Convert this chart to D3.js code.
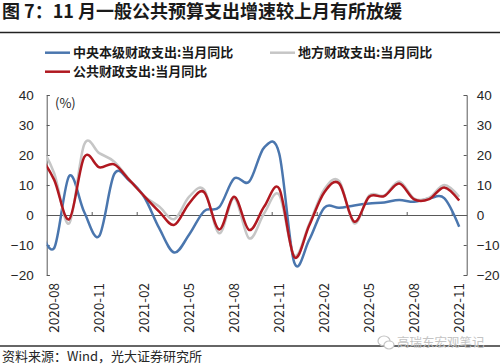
<!DOCTYPE html>
<html>
<head>
<meta charset="utf-8">
<script src="https://cdn.jsdelivr.net/npm/d3@7"></script>
<style>
  body { margin: 0; background: #fff; }
  svg { display: block; font-family: "Noto Sans CJK SC", "Noto Sans", sans-serif; }
  .axis text { font-size: 13.5px; fill: #262626; }
  .axis path, .axis line { stroke: #595959; }
</style>
</head>
<body>
<svg id="chart" width="500" height="364"></svg>
<script>
// months, 2020-07 is only partly visible (clipped at the left axis)
var months = ["2020-07", "2020-08", "2020-09", "2020-10", "2020-11", "2020-12",
  "2021-01", "2021-02", "2021-03", "2021-04", "2021-05", "2021-06",
  "2021-07", "2021-08", "2021-09", "2021-10", "2021-11", "2021-12",
  "2022-01", "2022-02", "2022-03", "2022-04", "2022-05", "2022-06",
  "2022-07", "2022-08", "2022-09", "2022-10", "2022-11"];

var central = [-4, -11, 13, 1, -7, 13.6, 11.5, 6, -4.4, -12.5, -6.5, 1.3,
  2.6, 12.2, 11.1, 22.5, 20.5, -15.8, -8.3, 2.4, 2.4, 3.2, 3.8, 4.2,
  5.0, 4.4, 5.5, 5.6, -3.9];

var local = [24, 13.9, -2.8, 23.5, 20.6, 17.8, 11.9, 6.3, 2.8, -1.4, 6.1, 8.4,
  -6.1, 5.6, -7.8, 0.6, 6.7, -13.5, -3, 8.5, 11.3, -2.8, 6.5, 6.5,
  11.2, 5.5, 5.8, 10, 6.1];

var total = [20, 11.7, -1.4, 19.3, 15.9, 16.9, 11.7, 6.3, 1.1, -3.3, 3.9, 7.6,
  -4.8, 6.1, -5, 2.8, 8.8, -14, -3.5, 7.5, 10.5, -2.2, 6.1, 6.3,
  10.5, 5.2, 5.3, 9.2, 4.8];

var yTicks = [-20, -10, 0, 10, 20, 30, 40];
var labelMonths = ["2020-08", "2020-11", "2021-02", "2021-05", "2021-08",
  "2021-11", "2022-02", "2022-05", "2022-08", "2022-11"];

var series = [
  { name: "中央本级财政支出:当月同比", values: central, color: "#4a76ae" },
  { name: "地方财政支出:当月同比", values: local, color: "#c6c6c6" },
  { name: "公共财政支出:当月同比", values: total, color: "#b01820" }
];

var svg = d3.select("#chart");
var plotLeft = 46.7, plotRight = 466.7, plotTop = 95, plotBottom = 275;

var x = d3.scaleLinear().domain([0.5, months.length - 0.5]).range([plotLeft, plotRight]);
var y = d3.scaleLinear().domain([-20, 40]).range([plotBottom, plotTop]);

// title
svg.append("text")
  .attr("x", 2).attr("y", 18)
  .attr("font-size", 18).attr("font-weight", "bold").attr("fill", "#1a1a1a")
  .text("图 7：11 月一般公共预算支出增速较上月有所放缓");

svg.append("line")
  .attr("x1", 0).attr("x2", 500).attr("y1", 32.5).attr("y2", 32.5)
  .attr("stroke", "#222").attr("stroke-width", 1.3);

// legend
var legendPos = [[45, 52.7], [270, 52.7], [45, 71.7]];
var legend = svg.selectAll(".legend")
  .data(series)
  .enter()
  .append("g")
    .attr("class", "legend")
    .attr("transform", function(d, i) {
      return "translate(" + legendPos[i][0] + "," + legendPos[i][1] + ")";
    });

legend.append("line")
  .attr("x1", 0).attr("x2", 25)
  .attr("stroke", function(d) { return d.color; })
  .attr("stroke-width", 2.5);

legend.append("text")
  .attr("x", 28).attr("dy", "0.36em")
  .attr("font-size", 13).attr("font-weight", "bold").attr("fill", "#1a1a1a")
  .text(function(d) { return d.name; });

// y axes
svg.append("g")
  .attr("class", "axis")
  .attr("transform", "translate(" + plotLeft + ",0)")
  .call(d3.axisLeft(y).tickValues(yTicks).tickSizeInner(-3).tickSizeOuter(-3).tickPadding(13));

svg.append("g")
  .attr("class", "axis")
  .attr("transform", "translate(" + plotRight + ",0)")
  .call(d3.axisRight(y).tickValues(yTicks).tickSizeInner(-3).tickSizeOuter(-3).tickPadding(10));

// zero line with ticks between categories every 3 months
var boundaries = d3.range(3.5, months.length - 0.5, 3);
svg.append("g")
  .attr("class", "axis")
  .attr("transform", "translate(0," + y(0) + ")")
  .call(d3.axisBottom(x).tickValues(boundaries).tickSizeInner(-3).tickSizeOuter(0).tickFormat(""));

svg.selectAll(".xlabel")
  .data(labelMonths)
  .enter()
  .append("text")
    .attr("class", "xlabel")
    .attr("transform", function(d) {
      return "translate(" + x(months.indexOf(d)) + "," + (plotBottom + 8) + ") rotate(-90)";
    })
    .attr("dy", "0.36em")
    .attr("text-anchor", "end")
    .attr("font-size", 13.5).attr("fill", "#262626")
    .text(function(d) { return d; });

svg.append("text")
  .attr("x", 55).attr("y", 108)
  .attr("font-size", 13).attr("fill", "#262626")
  .text("(%)");

// lines
svg.append("clipPath").attr("id", "plot")
  .append("rect")
    .attr("x", plotLeft).attr("y", 0)
    .attr("width", plotRight - plotLeft).attr("height", 364);

var line = d3.line()
  .x(function(d, i) { return x(i); })
  .y(function(d) { return y(d); })
  .curve(d3.curveCardinal.tension(0));

svg.append("g")
  .attr("clip-path", "url(#plot)")
  .selectAll("path")
  .data(series)
  .enter()
  .append("path")
    .attr("d", function(d) { return line(d.values); })
    .attr("fill", "none")
    .attr("stroke", function(d) { return d.color; })
    .attr("stroke-width", 2.5);

// footer
svg.append("line")
  .attr("x1", 0).attr("x2", 500).attr("y1", 346).attr("y2", 346)
  .attr("stroke", "#333").attr("stroke-width", 1.3);

svg.append("text")
  .attr("x", 2).attr("y", 361)
  .attr("font-size", 13).attr("fill", "#262626")
  .text("资料来源：Wind，光大证券研究所");

var mark = svg.append("g").attr("transform", "translate(384,342)");
mark.append("ellipse").attr("cx", 0).attr("cy", -1).attr("rx", 6).attr("ry", 5)
  .attr("fill", "none").attr("stroke", "#c4c4c4").attr("stroke-width", 1.2);
mark.append("ellipse").attr("cx", 5).attr("cy", 3).attr("rx", 5).attr("ry", 4)
  .attr("fill", "#fff").attr("stroke", "#c4c4c4").attr("stroke-width", 1.2);
mark.append("text")
  .attr("x", 13).attr("dy", "0.36em")
  .attr("font-size", 12.5).attr("fill", "#c4c4c4")
  .text("高瑞东宏观笔记");
</script>
</body>
</html>
